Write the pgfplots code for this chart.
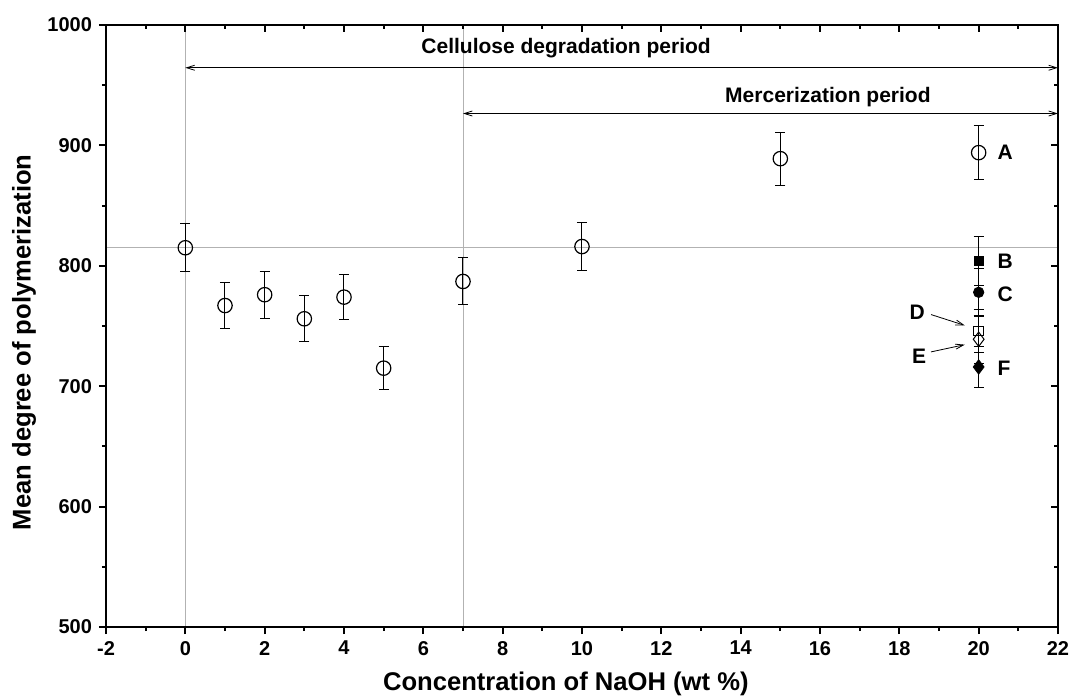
\documentclass[border=0pt]{standalone}
\usepackage{pgfplots}
\pgfplotsset{compat=1.18}
\usepackage{fontspec}
\setmainfont{Liberation Sans}
\usetikzlibrary{arrows.meta}

\pgfplotstableread{
x   y    e
0   815  20
1   767  19
2   776  19.5
3   756  19
4   774  19
5   715  18
7   787  19.5
10  816  20
15  889  22
20  894  22.5
}\naoh

\begin{document}
\begin{tikzpicture}[font=\bfseries]
\pgfplotsset{
  frame/.style={
    width=476pt, height=301pt, scale only axis,
    xmin=-2, xmax=22, ymin=500, ymax=1000,
    xtick={-2,0,...,22}, ytick={500,600,...,1000},
    minor x tick num=1, minor y tick num=1,
    axis line style={line width=1pt},
    major tick length=3.5pt, minor tick length=2pt,
    every tick/.style={line width=1pt, black},
  },
  ebar/.style={
    error bars/.cd, y dir=both, y explicit,
    error bar style={line width=0.5pt, black},
    error mark options={rotate=90, mark size=2.5pt, line width=0.5pt, black},
  },
}
\useasboundingbox (-53pt,-35.5pt) rectangle (483.5pt,313.5pt);

\begin{axis}[frame, at={(0,0)}, anchor=south west,
  tick align=outside, xtick pos=left, ytick pos=left,
  ticklabel style={font=\fontsize{10}{12}\selectfont\bfseries},
  /pgf/number format/assume math mode=true,
  /pgf/number format/1000 sep={},
  xlabel={Concentration of NaOH (wt \%)},
  ylabel={Mean degree of polymerization},
  label style={font=\fontsize{12.8}{15}\selectfont\bfseries},
  xlabel style={at={(axis description cs:0.483,-0.094)}, anchor=center},
  ylabel style={at={(axis description cs:-0.086,0.473)}, anchor=center},
  clip=false]

% reference lines
\addplot[gray!60, line width=0.4pt] coordinates {(0,500) (0,1000)};
\addplot[gray!60, line width=0.4pt] coordinates {(7,500) (7,1000)};
\addplot[gray!60, line width=0.4pt] coordinates {(-2,815) (22,815)};

% period arrows
\draw[line width=0.4pt, {Straight Barb[length=4pt,width=2.5pt]}-{Straight Barb[length=4pt,width=2.5pt]}]
  (axis cs:0,964.5) -- (axis cs:22,964.5);
\draw[line width=0.4pt, {Straight Barb[length=4pt,width=2.5pt]}-{Straight Barb[length=4pt,width=2.5pt]}]
  (axis cs:7,926.5) -- (axis cs:22,926.5);
\node[font=\fontsize{10.5}{12}\selectfont\bfseries] at (axis cs:9.6,981) {Cellulose degradation period};
\node[font=\fontsize{10.5}{12}\selectfont\bfseries] at (axis cs:16.2,940) {Mercerization period};

% data
\addplot[only marks, mark=o, mark size=3.6pt, mark options={fill=white, line width=0.6pt}, ebar]
  table[x=x, y=y, y error=e] {\naoh};
\addplot[only marks, mark=square*, mark size=2.3pt, ebar]
  coordinates {(20,804) +- (0,20)};
\addplot[only marks, mark=*, mark size=2.6pt, ebar]
  coordinates {(20,778) +- (0,20)};
\addplot[only marks, mark=square, mark size=2.4pt, mark options={fill=white, line width=0.5pt}, ebar]
  coordinates {(20,746) +- (0,18)};
\addplot[only marks, mark=diamond, mark size=3.6pt, mark options={fill=white, line width=0.5pt}, ebar]
  coordinates {(20,739) +- (0,20)};
\addplot[only marks, mark=diamond*, mark size=3.6pt, ebar]
  coordinates {(20,716) +- (0,17)};

% point labels
\tikzset{lbl/.style={font=\fontsize{10.5}{12}\selectfont\bfseries}}
\node[lbl, anchor=west] at (axis cs:20.3,894) {A};
\node[lbl, anchor=west] at (axis cs:20.3,804) {B};
\node[lbl, anchor=west] at (axis cs:20.3,776) {C};
\node[lbl] at (axis cs:18.45,761) {D};
\node[lbl] at (axis cs:18.5,725) {E};
\node[lbl, anchor=west] at (axis cs:20.3,715) {F};
\draw[line width=0.4pt, -{Straight Barb[length=4pt,width=2.5pt]}] (axis cs:18.8,759.5) -- (axis cs:19.65,750.5);
\draw[line width=0.4pt, -{Straight Barb[length=4pt,width=2.5pt]}] (axis cs:18.8,728.5) -- (axis cs:19.65,734.5);
\end{axis}

% inward ticks on top and right
\begin{axis}[frame, at={(0,0)}, anchor=south west,
  tick align=inside, xtick pos=right, ytick pos=right,
  xticklabels={}, yticklabels={}]
\end{axis}
\end{tikzpicture}
\end{document}
